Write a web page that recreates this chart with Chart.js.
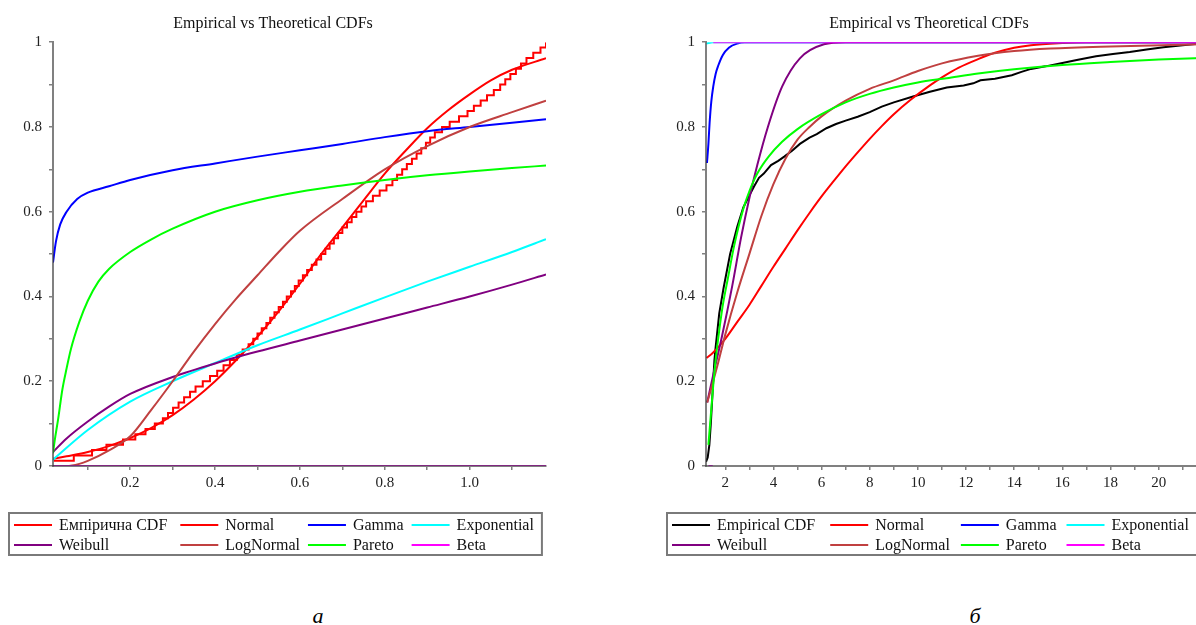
<!DOCTYPE html>
<html lang="uk">
<head>
<meta charset="utf-8">
<title>Empirical vs Theoretical CDFs</title>
<script src="https://cdn.jsdelivr.net/npm/chart.js@4.4.1/dist/chart.umd.min.js"></script>
<style>
  html, body { margin: 0; padding: 0; background: #fff; }
  body { position: relative; width: 1196px; height: 625px; overflow: hidden; }
  canvas { position: absolute; top: 0; }
  #chartA { left: 0; }
  #chartB { left: 656px; }
  .caption {
    position: absolute; top: 603px; width: 40px; margin-left: -20px; text-align: center;
    font: italic 22px "Liberation Serif", "Times New Roman", serif; color: #000;
  }
</style>
</head>
<body>
<canvas id="chartA" width="556" height="575"></canvas>
<canvas id="chartB" width="556" height="575"></canvas>
<div class="caption" style="left:318px">а</div>
<div class="caption" style="left:975px">б</div>

<script>
const SERIF = '"Liberation Serif", "Times New Roman", serif';

// curve names / colours, same order in both panels
const curveNames = ["Normal", "Gamma", "Exponential", "Weibull", "LogNormal", "Pareto", "Beta"];
const curveColors = ["#ff0000", "#0000ff", "#00ffff", "#800080", "#c04040", "#00ff00", "#ff00ff"];

// ---- panel а ----
const aEcdfX = [0.02, 0.067, 0.110, 0.144, 0.183, 0.212, 0.236, 0.258, 0.277, 0.289,
  0.301, 0.314, 0.327, 0.341, 0.354, 0.371, 0.388, 0.405, 0.420, 0.435,
  0.451, 0.465, 0.479, 0.490, 0.500, 0.510, 0.521, 0.530, 0.540, 0.550,
  0.560, 0.569, 0.579, 0.588, 0.597, 0.607, 0.617, 0.628, 0.639, 0.650,
  0.660, 0.670, 0.680, 0.690, 0.700, 0.711, 0.722, 0.733, 0.745, 0.756,
  0.772, 0.788, 0.804, 0.818, 0.829, 0.841, 0.852, 0.864, 0.875, 0.886,
  0.897, 0.907, 0.918, 0.935, 0.953, 0.975, 0.995, 1.010, 1.026, 1.041,
  1.057, 1.072, 1.084, 1.096, 1.109, 1.121, 1.134, 1.150, 1.167, 1.180];
const aEcdfY = [0.0125, 0.025, 0.0375, 0.05, 0.0625, 0.075, 0.0875, 0.1, 0.1125, 0.125,
  0.1375, 0.15, 0.1625, 0.175, 0.1875, 0.2, 0.2125, 0.225, 0.2375, 0.25,
  0.2625, 0.275, 0.2875, 0.3, 0.3125, 0.325, 0.3375, 0.35, 0.3625, 0.375,
  0.3875, 0.4, 0.4125, 0.425, 0.4375, 0.45, 0.4625, 0.475, 0.4875, 0.5,
  0.5125, 0.525, 0.5375, 0.55, 0.5625, 0.575, 0.5875, 0.6, 0.6125, 0.625,
  0.6375, 0.65, 0.6625, 0.675, 0.6875, 0.7, 0.7125, 0.725, 0.7375, 0.75,
  0.7625, 0.775, 0.7875, 0.8, 0.8125, 0.825, 0.8375, 0.85, 0.8625, 0.875,
  0.8875, 0.9, 0.9125, 0.925, 0.9375, 0.95, 0.9625, 0.975, 0.9875, 1];

const aNormalX = [0.018, 0.05, 0.1, 0.15, 0.2, 0.25, 0.3, 0.35, 0.4, 0.45, 0.5, 0.55, 0.6, 0.65, 0.7, 0.75, 0.8, 0.85, 0.9, 0.95, 1.0, 1.05, 1.1, 1.18];
const aNormalY = [0.017, 0.023, 0.033, 0.047, 0.066, 0.09, 0.12, 0.157, 0.2, 0.25, 0.305, 0.365, 0.43, 0.5, 0.563, 0.627, 0.69, 0.745, 0.797, 0.84, 0.877, 0.91, 0.935, 0.962];
const aGammaX = [0.018, 0.025, 0.035, 0.05, 0.075, 0.1, 0.15, 0.2, 0.3, 0.4, 0.5, 0.6, 0.7, 0.8, 0.9, 1.0, 1.1, 1.18];
const aGammaY = [0.48, 0.53, 0.57, 0.60, 0.63, 0.645, 0.66, 0.675, 0.698, 0.714, 0.73, 0.745, 0.76, 0.776, 0.79, 0.80, 0.81, 0.818];
const aExpX = [0.018, 0.1, 0.2, 0.3, 0.4, 0.5, 0.6, 0.7, 0.8, 0.9, 1.0, 1.1, 1.18];
const aExpY = [0.015, 0.085, 0.152, 0.2, 0.243, 0.285, 0.322, 0.36, 0.398, 0.435, 0.47, 0.505, 0.535];
const aWeibullX = [0.018, 0.05, 0.1, 0.15, 0.2, 0.3, 0.4, 0.5, 0.6, 0.7, 0.8, 0.9, 1.0, 1.1, 1.18];
const aWeibullY = [0.033, 0.065, 0.105, 0.14, 0.17, 0.21, 0.242, 0.27, 0.296, 0.322, 0.348, 0.374, 0.40, 0.428, 0.452];
const aLogNormX = [0.018, 0.05, 0.08, 0.1, 0.15, 0.2, 0.25, 0.3, 0.35, 0.4, 0.45, 0.5, 0.55, 0.6, 0.7, 0.8, 0.9, 1.0, 1.1, 1.18];
const aLogNormY = [0, 0, 0.005, 0.012, 0.037, 0.07, 0.133, 0.2, 0.27, 0.335, 0.395, 0.45, 0.505, 0.555, 0.63, 0.70, 0.755, 0.80, 0.835, 0.862];
const aParetoX = [0.018, 0.022, 0.03, 0.04, 0.05, 0.06, 0.08, 0.1, 0.125, 0.15, 0.2, 0.25, 0.3, 0.4, 0.5, 0.6, 0.7, 0.8, 0.9, 1.0, 1.1, 1.18];
const aParetoY = [0.03, 0.06, 0.11, 0.18, 0.23, 0.275, 0.34, 0.39, 0.435, 0.465, 0.505, 0.535, 0.56, 0.60, 0.627, 0.647, 0.662, 0.675, 0.686, 0.695, 0.703, 0.709];
const aBetaX = [0.018, 1.18];
const aBetaY = [0, 0];

// ---- panel б ----
const bEcdfX = [1.2, 1.27, 1.34, 1.4, 1.45, 1.5, 1.55, 1.6, 1.75, 1.93,
  2.2, 2.5, 2.75, 2.97, 3.2, 3.4, 3.6, 3.9, 4.2, 4.45,
  4.8, 5.1, 5.5, 5.8, 6.2, 6.6, 7.0, 7.5, 8.0, 8.5,
  9.0, 9.8, 10.5, 11.2, 11.9, 12.3, 12.6, 13.2, 13.9, 14.3,
  14.7, 15.3, 16.0, 16.6, 17.4, 18.1, 18.8, 19.5, 20.2, 20.9,
  21.5, 21.8];
const bEcdfY = [0.01, 0.02, 0.05, 0.10, 0.15, 0.20, 0.25, 0.28, 0.36, 0.42,
  0.50, 0.565, 0.61, 0.635, 0.66, 0.68, 0.69, 0.71, 0.72, 0.73,
  0.745, 0.76, 0.775, 0.783, 0.797, 0.807, 0.815, 0.824, 0.835, 0.848,
  0.858, 0.872, 0.883, 0.893, 0.898, 0.903, 0.91, 0.914, 0.922, 0.93,
  0.937, 0.943, 0.951, 0.958, 0.967, 0.972, 0.977, 0.983, 0.988, 0.992,
  0.996, 0.998];

const bNormalX = [1.22, 1.5, 2.0, 2.5, 3.0, 3.5, 4.0, 4.5, 5.0, 5.5, 6.0, 6.5, 7.0, 7.5, 8.0, 8.5, 9.0, 9.7, 10.5, 11.0, 11.7, 12.5, 13.2, 14.0, 14.7, 16.0, 17.0, 21.8];
const bNormalY = [0.255, 0.268, 0.30, 0.34, 0.38, 0.425, 0.47, 0.513, 0.556, 0.597, 0.636, 0.672, 0.707, 0.74, 0.772, 0.802, 0.83, 0.864, 0.898, 0.917, 0.94, 0.96, 0.975, 0.987, 0.993, 0.998, 1.0, 1.0];
const bGammaX = [1.24, 1.3, 1.35, 1.42, 1.5, 1.6, 1.71, 1.9, 2.15, 2.5, 2.8, 21.8];
const bGammaY = [0.715, 0.76, 0.81, 0.86, 0.895, 0.925, 0.945, 0.97, 0.987, 0.997, 1.0, 1.0];
const bExpX = [1.22, 1.5, 21.8];
const bExpY = [0.997, 1.0, 1.0];
const bWeibullX = [1.25, 1.5, 1.86, 2.29, 2.66, 3.0, 3.33, 3.77, 4.36, 5.1, 6.1, 7.0, 21.8];
const bWeibullY = [0.15, 0.215, 0.305, 0.425, 0.54, 0.632, 0.71, 0.80, 0.895, 0.962, 0.995, 1.0, 1.0];
const bLogNormX = [1.25, 1.5, 1.71, 2.0, 2.5, 3.0, 3.5, 4.0, 4.5, 5.0, 5.5, 6.0, 7.0, 8.0, 9.0, 10.0, 11.0, 12.5, 14.0, 15.5, 18.0, 21.8];
const bLogNormY = [0.15, 0.2, 0.245, 0.31, 0.41, 0.50, 0.59, 0.665, 0.725, 0.77, 0.80, 0.825, 0.862, 0.89, 0.91, 0.932, 0.95, 0.968, 0.979, 0.985, 0.99, 0.995];
const bParetoX = [1.3, 1.4, 1.5, 1.6, 1.75, 1.9, 2.1, 2.37, 2.74, 3.0, 3.33, 3.8, 4.36, 5.0, 6.0, 7.0, 8.0, 9.0, 10.0, 11.2, 12.5, 14.0, 16.0, 18.0, 20.0, 21.8];
const bParetoY = [0.05, 0.12, 0.19, 0.25, 0.32, 0.38, 0.44, 0.52, 0.605, 0.648, 0.69, 0.73, 0.765, 0.795, 0.83, 0.858, 0.878, 0.893, 0.905, 0.915, 0.926, 0.936, 0.946, 0.953, 0.959, 0.963];
const bBetaX = [1.3, 1.48, 1.49, 1.5, 21.8];
const bBetaY = [0, 0, null, 1, 1];

const pts = (xs, ys) => xs.map((x, i) => ({ x: x, y: ys[i] }));

// legend laid out as a 4-column grid inside a grey box, like the Maple plot
const gridLegend = {
  id: "gridLegend",
  afterDraw(chart, args, o) {
    const ctx = chart.ctx;
    const items = chart.data.datasets.map(d => [d.label, d.borderColor]);
    const cols = 4, line = 38, gap = 7, after = 8, padL = 5, rowH = 20;
    ctx.save();
    ctx.font = o.font;
    const widths = [];
    for (let c = 0; c < cols; c++) {
      let w = 0;
      for (let i = c; i < items.length; i += cols) w = Math.max(w, ctx.measureText(items[i][0]).width);
      widths.push(line + gap + w + after + (o.extra[c] || 0));
    }
    const rows = Math.ceil(items.length / cols);
    const boxW = padL + widths.reduce((a, b) => a + b, 0);
    const boxH = rows * rowH + 2;
    const left = o.left;
    const top = Math.round(chart.chartArea.bottom + o.offset);
    ctx.strokeStyle = "#7a7a7a";
    ctx.lineWidth = 2;
    ctx.strokeRect(left, top, boxW, boxH);
    ctx.textBaseline = "middle";
    ctx.fillStyle = "#111";
    items.forEach(([text, color], i) => {
      const r = Math.floor(i / cols), c = i % cols;
      let x = left + padL;
      for (let k = 0; k < c; k++) x += widths[k];
      const y = top + 12 + r * rowH;
      ctx.strokeStyle = color;
      ctx.lineWidth = 2;
      ctx.beginPath();
      ctx.moveTo(x, y);
      ctx.lineTo(x + line, y);
      ctx.stroke();
      ctx.fillText(text, x + line + gap, y + 1);
    });
    ctx.restore();
  }
};

function yLabel(value) {
  const v = Math.round(value * 10);
  if (v % 2 !== 0) return "";
  if (v === 0) return "0";
  if (v === 10) return "1";
  return (v / 10).toFixed(1);
}

function makeChart(id, cfg) {
  const datasets = [{
    label: cfg.ecdfLabel,
    data: cfg.ecdf,
    borderColor: cfg.ecdfColor,
    stepped: cfg.stepped,
    tension: 0,
    order: 7
  }];
  cfg.curves.forEach((c, i) => {
    datasets.push({
      label: curveNames[i],
      data: c,
      borderColor: curveColors[i],
      cubicInterpolationMode: "monotone",
      order: 6 - i
    });
  });
  datasets.forEach(d => {
    d.borderWidth = 2;
    d.pointRadius = 0;
    d.fill = false;
  });

  const axisBorder = { display: true, color: "rgba(60,60,60,0.65)", width: 2, z: 1 };
  const axisGrid = { drawOnChartArea: false, drawTicks: true, tickLength: 4, color: "#808080", lineWidth: 1.5 };
  const tickFont = { family: SERIF, size: 15 };

  return new Chart(document.getElementById(id), {
    type: "line",
    data: { datasets: datasets },
    plugins: [gridLegend],
    options: {
      responsive: false,
      animation: false,
      devicePixelRatio: 1,
      layout: { padding: { left: 0, right: 10, top: 0, bottom: 84 } },
      plugins: {
        legend: { display: false },
        tooltip: { enabled: false },
        title: {
          display: true,
          text: "Empirical vs Theoretical CDFs",
          color: "#111",
          font: { family: SERIF, size: 16, weight: "normal" },
          padding: { top: 14, bottom: 9 }
        },
        gridLegend: { font: "16px " + SERIF, offset: 47, left: cfg.legendLeft, extra: cfg.legendExtra }
      },
      scales: {
        x: {
          type: "linear",
          min: cfg.xMin,
          max: cfg.xMax,
          border: axisBorder,
          grid: axisGrid,
          ticks: {
            stepSize: cfg.xStep,
            includeBounds: false,
            autoSkip: false,
            maxRotation: 0,
            padding: 4,
            color: "#222",
            font: tickFont,
            callback: cfg.xLabel
          },
          afterFit: s => { s.height = 25; }
        },
        y: {
          min: 0,
          max: 1,
          border: axisBorder,
          grid: axisGrid,
          ticks: {
            stepSize: 0.1,
            autoSkip: false,
            padding: 7,
            color: "#222",
            font: tickFont,
            callback: yLabel
          },
          afterFit: s => { s.width = cfg.yWidth; }
        }
      }
    }
  });
}

makeChart("chartA", {
  ecdfLabel: "Емпірична CDF",
  ecdfColor: "#ff0000",
  ecdf: pts(aEcdfX, aEcdfY),
  stepped: true,
  curves: [pts(aNormalX, aNormalY), pts(aGammaX, aGammaY), pts(aExpX, aExpY), pts(aWeibullX, aWeibullY),
           pts(aLogNormX, aLogNormY), pts(aParetoX, aParetoY), pts(aBetaX, aBetaY)],
  xMin: 0.018,
  xMax: 1.18,
  xStep: 0.1,
  xLabel: v => { const k = Math.round(v * 10); return k % 2 === 0 && k > 0 ? (k / 10).toFixed(1) : ""; },
  yWidth: 53,
  legendLeft: 9,
  legendExtra: [5, 0, 0, 0]
});

makeChart("chartB", {
  ecdfLabel: "Empirical CDF",
  ecdfColor: "#000000",
  ecdf: pts(bEcdfX, bEcdfY),
  stepped: false,
  curves: [pts(bNormalX, bNormalY), pts(bGammaX, bGammaY), pts(bExpX, bExpY), pts(bWeibullX, bWeibullY),
           pts(bLogNormX, bLogNormY), pts(bParetoX, bParetoY), pts(bBetaX, bBetaY)],
  xMin: 1.2,
  xMax: 21.8,
  xStep: 1,
  xLabel: v => (Math.round(v) % 2 === 0 ? String(Math.round(v)) : ""),
  yWidth: 50,
  legendLeft: 11,
  legendExtra: [7, 3, 2, 14]
});
</script>
</body>
</html>
